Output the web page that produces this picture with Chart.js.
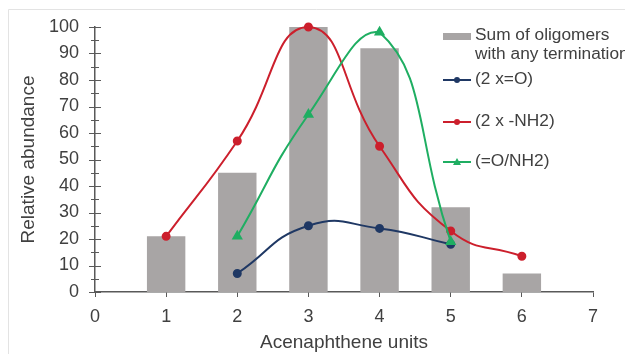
<!DOCTYPE html>
<html>
<head>
<meta charset="utf-8">
<script src="https://cdn.jsdelivr.net/npm/chart.js@4"></script>
<style>
  html, body { margin: 0; padding: 0; background: #fff; }
  #wrap { width: 625px; height: 355px; position: relative; }
</style>
</head>
<body>
<div id="wrap"><canvas id="chart" width="625" height="355"></canvas></div>
<script>
const units = [1, 2, 3, 4, 5, 6];
const sumOligomers = [21, 45, 100, 92, 32, 7];
const unitsOxo = [2, 3, 4, 5];
const oxoValues = [7, 25, 24, 18];
const unitsAmine = [1, 2, 3, 4, 5, 6];
const amineValues = [21, 57, 100, 55, 23, 13.5];
const unitsMixed = [2, 3, 4, 5];
const mixedValues = [21, 67, 98, 19];
const legendLabels = [['Sum of oligomers', 'with any termination'], ['(2 x=O)'], ['(2 x -NH2)'], ['(=O/NH2)']];

const FONT = '"Liberation Sans", Arial, sans-serif';
const TEXT = '#404040';
const AXIS = '#595959';

function pts(xs, ys) {
  return xs.map(function(x, i) { return { x: x, y: ys[i] }; });
}

// frame, crossing y ticks and the legend box on the right
const extras = {
  id: 'extras',
  afterDraw: function(chart) {
    const c = chart.ctx;
    const y = chart.scales.y;
    const left = chart.chartArea.left;
    c.save();
    c.strokeStyle = '#e3e3e3';
    c.lineWidth = 1;
    c.beginPath();
    c.moveTo(8.5, 354); c.lineTo(8.5, 9.5); c.lineTo(625, 9.5);
    c.stroke();

    c.strokeStyle = AXIS;
    c.beginPath();
    for (let v = 0; v <= 100; v += 5) {
      const py = Math.round(y.getPixelForValue(v)) + 0.5;
      const len = v % 10 === 0 ? 6 : 4;
      c.moveTo(left - len, py); c.lineTo(left + len, py);
    }
    c.stroke();

    c.font = '16px ' + FONT;
    c.textBaseline = 'middle';
    const lx = 443, tx = 475;
    const rows = [36, 80, 122, 162];
    chart.data.datasets.forEach(function(ds) {
      const ry = rows[ds.legendIndex];
      if (ds.type === 'bar') {
        c.fillStyle = ds.backgroundColor;
        c.fillRect(lx, ry - 3, 28, 7);
      } else {
        c.strokeStyle = ds.borderColor;
        c.lineWidth = 2;
        c.beginPath(); c.moveTo(lx, ry); c.lineTo(lx + 28, ry); c.stroke();
        c.fillStyle = ds.pointBackgroundColor;
        c.beginPath();
        if (ds.pointStyle === 'triangle') {
          c.moveTo(lx + 14, ry - 4); c.lineTo(lx + 18, ry + 3); c.lineTo(lx + 10, ry + 3);
        } else {
          c.arc(lx + 14, ry, 3, 0, Math.PI * 2);
        }
        c.fill();
      }
      c.fillStyle = TEXT;
      legendLabels[ds.legendIndex].forEach(function(line, k) {
        c.save();
        c.translate(tx, ry + k * 19);
        c.scale(1.08, 1);
        c.fillText(line, 0, 0);
        c.restore();
      });
    });
    c.restore();
  }
};

new Chart(document.getElementById('chart').getContext('2d'), {
  data: {
    datasets: [
      {
        type: 'line', legendIndex: 3, data: pts(unitsMixed, mixedValues),
        borderColor: '#1fae62', backgroundColor: '#1fae62', pointBackgroundColor: '#1fae62',
        pointBorderColor: '#1fae62', pointStyle: 'triangle', pointRadius: 4.5,
        borderWidth: 2, tension: 0.5, clip: false, order: 1
      },
      {
        type: 'line', legendIndex: 2, data: pts(unitsAmine, amineValues),
        borderColor: '#cc1f2c', backgroundColor: '#cc1f2c', pointBackgroundColor: '#cc1f2c',
        pointBorderColor: '#cc1f2c', pointRadius: 3.5,
        borderWidth: 2, tension: 0.5, clip: false, order: 2
      },
      {
        type: 'line', legendIndex: 1, data: pts(unitsOxo, oxoValues),
        borderColor: '#1f3864', backgroundColor: '#1f3864', pointBackgroundColor: '#1f3864',
        pointBorderColor: '#1f3864', pointRadius: 3.5,
        borderWidth: 2, tension: 0.5, clip: false, order: 3
      },
      {
        type: 'bar', legendIndex: 0, data: pts(units, sumOligomers),
        backgroundColor: '#a8a5a5', barPercentage: 0.54, categoryPercentage: 1, order: 10
      }
    ]
  },
  options: {
    responsive: false,
    animation: false,
    layout: { padding: { top: 27, right: 32, left: 0, bottom: 0 } },
    plugins: { legend: { display: false }, tooltip: { enabled: false } },
    scales: {
      x: {
        type: 'linear', min: 0, max: 7, offset: false,
        afterFit: function(s) { s.height = 63; },
        grid: { drawOnChartArea: false, tickLength: 5, color: AXIS, offset: false },
        border: { color: AXIS, width: 1.5 },
        ticks: { stepSize: 1, padding: 9, color: TEXT, font: { family: FONT, size: 18 } },
        title: { display: true, text: 'Acenaphthene units', color: TEXT,
                 font: { family: FONT, size: 19 }, padding: { top: 0, bottom: 1 } }
      },
      y: {
        min: 0, max: 100,
        afterFit: function(s) { s.width = 95; },
        grid: { display: false },
        border: { color: AXIS, width: 1.5 },
        ticks: { stepSize: 10, padding: 8, color: TEXT, font: { family: FONT, size: 18 } },
        title: { display: true, text: 'Relative abundance', color: TEXT,
                 font: { family: FONT, size: 19 }, padding: { top: 17, bottom: 0 } }
      }
    }
  },
  plugins: [extras]
});
</script>
</body>
</html>
